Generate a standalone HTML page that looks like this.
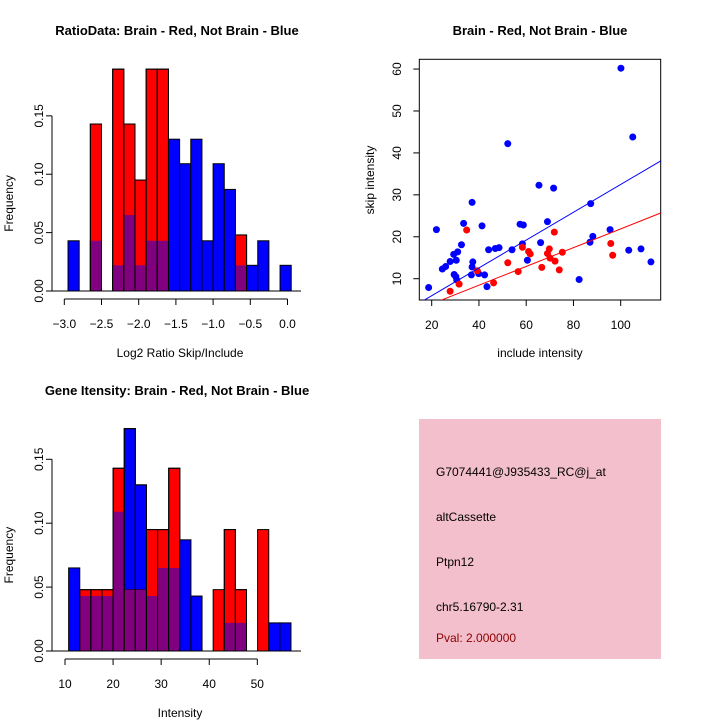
<!DOCTYPE html>
<html><head><meta charset="utf-8"><style>
body{margin:0;background:#fff}
svg{display:block;font-family:"Liberation Sans",sans-serif}
</style></head><body>
<svg id="s" width="720" height="720" viewBox="0 0 720 720">
<rect width="720" height="720" fill="#fff"/>
<g id="p1"></g>
<g id="p2"></g>
<g id="p3"></g>
<g>
<rect x="419" y="419" width="242" height="240" fill="#f3bfcc"/>
<text x="436" y="476" font-size="12">G7074441@J935433_RC@j_at</text>
<text x="436" y="521" font-size="12">altCassette</text>
<text x="436" y="566" font-size="12">Ptpn12</text>
<text x="436" y="611" font-size="12">chr5.16790-2.31</text>
<text x="436" y="642" font-size="12" fill="#8b0000">Pval: 2.000000</text>
</g>
</svg>
<script>
// Ratio histogram data
const ratioStart = -2.95, ratioWidth = 0.15;
const ratioBlue = [0.043,0,0.043,0,0.022,0.065,0.022,0.043,0.043,0.13,0.109,0.13,0.043,0.109,0.087,0.022,0.022,0.043,0,0.022];
const ratioRed  = [0,0,0.143,0,0.19,0.143,0.095,0.19,0.19,0,0,0,0,0,0,0.048,0,0,0,0];
const ratioXTicks = [-3.0,-2.5,-2.0,-1.5,-1.0,-0.5,0.0];
const ratioXLabels = ["\u22123.0","\u22122.5","\u22122.0","\u22121.5","\u22121.0","\u22120.5","0.0"];
const freqTicks = [0,0.05,0.10,0.15];
const freqLabels = ["0.00","0.05","0.10","0.15"];
// Gene intensity histogram data
const geneStart = 10.76, geneWidth = 2.312;
const geneBlue = [0.065,0.043,0.043,0.043,0.109,0.174,0.13,0.043,0.065,0.065,0.087,0.043,0,0,0.022,0.022,0,0,0.022,0.022];
const geneRed  = [0,0.048,0.048,0.048,0.143,0.048,0.048,0.095,0.095,0.143,0,0,0,0.048,0.095,0.048,0,0.095,0,0];
const geneXTicks = [10,20,30,40,50];
// Scatter data
const blueX = [18.7,22.0,24.5,25.9,27.8,29.3,29.5,30.4,31.0,30.6,30.2,32.6,33.5,37.1,37.4,37.1,36.8,39.9,41.3,42.4,43.4,44.1,46.9,48.5,52.2,54.0,57.4,58.8,58.4,60.5,65.4,66.1,69.0,71.6,82.4,87.0,87.3,88.2,95.5,100.1,103.4,105.1,108.6,112.8];
const blueY = [7.9,21.7,12.3,12.9,14.1,15.8,11.0,14.4,16.4,9.7,10.5,18.1,23.2,28.2,14.0,12.8,10.9,11.2,22.6,10.9,8.1,16.9,17.2,17.4,42.2,16.9,23.0,22.8,18.3,14.4,32.3,18.6,23.6,31.6,9.8,18.7,27.9,20.1,21.7,60.2,16.8,43.8,17.1,14.0];
const redX = [27.8,31.6,34.8,39.3,46.2,52.2,56.6,58.4,61.0,61.7,66.6,69.0,69.8,70.1,71.9,72.2,74.0,75.3,95.8,96.6];
const redY = [7.0,8.7,21.6,11.9,9.0,13.8,11.7,17.5,16.5,15.9,12.7,16.0,17.1,14.9,21.1,14.2,12.1,16.3,18.4,15.6];
const blueFit = [-0.69,0.3316];
const redFit = [-0.50,0.2238];
const scX = [20,40,60,80,100];
const scY = [10,20,30,40,50,60];

const NS="http://www.w3.org/2000/svg";
function mk(p,tag,at,txt){const e=document.createElementNS(NS,tag);for(const k in at)e.setAttribute(k,at[k]);if(txt!==undefined)e.textContent=txt;p.appendChild(e);return e;}

function hist(g,o){
  const sx=v=>o.x0+(v-o.d0)*o.kx, sy=v=>o.y0-v*o.ky;
  for(let i=0;i<o.blue.length;i++){
    const a=o.start+i*o.w, b=a+o.w, x=sx(a), wd=sx(b)-sx(a);
    const bv=o.blue[i], rv=o.red[i];
    if(bv>0){const r=mk(g,'rect',{x:x,y:sy(bv),width:wd,height:sy(0)-sy(bv),fill:'#0000ff',stroke:'#000','stroke-width':1});
      
      }
    if(rv>0){const r=mk(g,'rect',{x:x,y:sy(rv),width:wd,height:sy(0)-sy(rv),fill:'#ff0000',stroke:'#000','stroke-width':1});
      
      }
    const m=Math.min(bv,rv);
    if(m>0){const r=mk(g,'rect',{x:x+0.5,y:sy(m),width:wd-1,height:sy(0)-sy(m)-0.5,fill:'#800080'});
      
      }
    if(bv>0&&rv>0){mk(g,'rect',{x:x,y:sy(Math.max(bv,rv)),width:wd,height:sy(0)-sy(Math.max(bv,rv)),fill:'none',stroke:'#000','stroke-width':1});}
  }
  mk(g,'line',{x1:52,x2:301,y1:o.y0,y2:o.y0,stroke:'#000'});
  const ya=mk(g,'g',{});
  mk(ya,'line',{x1:52,x2:52,y1:sy(freqTicks[0]),y2:sy(freqTicks[freqTicks.length-1]),stroke:'#000'});
  freqTicks.forEach((t,i)=>{const y=sy(t);mk(ya,'line',{x1:46,x2:52,y1:y,y2:y,stroke:'#000'});
    const tx=mk(ya,'text',{x:0,y:0,'font-size':12,'text-anchor':'middle',transform:`translate(43,${y}) rotate(-90)`},freqLabels[i]);
    
    });
  const yl=mk(ya,'text',{'font-size':12,'text-anchor':'middle',transform:`translate(13,${(sy(0)+sy(0.15))/2}) rotate(-90)`},'Frequency');
  
  
  const xa=mk(g,'g',{});
  const ay=o.y0+8;
  mk(xa,'line',{x1:sx(o.ticks[0]),x2:sx(o.ticks[o.ticks.length-1]),y1:ay,y2:ay,stroke:'#000'});
  o.ticks.forEach((t,i)=>{const x=sx(t);mk(xa,'line',{x1:x,x2:x,y1:ay,y2:ay+6,stroke:'#000'});
    const tx=mk(xa,'text',{x:x,y:ay+29,'font-size':12,'text-anchor':'middle'},o.labels[i]);
    
    });
  const xl=mk(xa,'text',{x:180,y:ay+58,'font-size':12,'text-anchor':'middle'},o.xlab);
  
  
  const ti=mk(g,'text',{x:177,y:o.titleY,'font-size':13,'font-weight':'bold','text-anchor':'middle'},o.title);
  
  
}
hist(document.getElementById('p1'),{blue:ratioBlue,red:ratioRed,start:ratioStart,w:ratioWidth,x0:64.3,d0:-3,kx:74.4,y0:291,ky:1167.7,ticks:ratioXTicks,labels:ratioXLabels,xlab:'Log2 Ratio Skip/Include',title:'RatioData: Brain - Red, Not Brain - Blue',titleY:35});
hist(document.getElementById('p3'),{blue:geneBlue,red:geneRed,start:geneStart,w:geneWidth,x0:65,d0:10,kx:4.808,y0:651,ky:1278,ticks:geneXTicks,labels:geneXTicks.map(String),xlab:'Intensity',title:'Gene Itensity: Brain - Red, Not Brain - Blue',titleY:395});

(function(){
  const g=document.getElementById('p2');
  const sx=v=>431.7+(v-20)*2.3625, sy=v=>278.7-(v-10)*4.193;
  const L=419.3,R=660.7,T=59.3,B=300;
  const cp=mk(g,'clipPath',{id:'cp'});mk(cp,'rect',{x:L,y:T,width:R-L,height:B-T});
  const fr=mk(g,'rect',{x:L,y:T,width:R-L,height:B-T,fill:'none',stroke:'#000'});
  
  
  const pts=mk(g,'g',{'clip-path':'url(#cp)'});
  blueX.forEach((x,i)=>{const c=mk(pts,'circle',{cx:sx(x),cy:sy(blueY[i]),r:3.5,fill:'#0000ff'});
    
    });
  redX.forEach((x,i)=>{const c=mk(pts,'circle',{cx:sx(x),cy:sy(redY[i]),r:3.5,fill:'#ff0000'});
    
    });
  const xa0=(L-431.7)/2.3625+20, xa1=(R-431.7)/2.3625+20;
  const bl=mk(pts,'line',{x1:sx(xa0),y1:sy(blueFit[0]+blueFit[1]*xa0),x2:sx(xa1),y2:sy(blueFit[0]+blueFit[1]*xa1),stroke:'#0000ff'});
  
  
  const rl=mk(pts,'line',{x1:sx(xa0),y1:sy(redFit[0]+redFit[1]*xa0),x2:sx(xa1),y2:sy(redFit[0]+redFit[1]*xa1),stroke:'#ff0000'});
  
  
  scX.forEach(t=>{const x=sx(t);mk(g,'line',{x1:x,x2:x,y1:B,y2:B+6,stroke:'#000'});
    const tx=mk(g,'text',{x:x,y:329,'font-size':12,'text-anchor':'middle'},String(t));
    
    });
  scY.forEach(t=>{const y=sy(t);mk(g,'line',{x1:L-6,x2:L,y1:y,y2:y,stroke:'#000'});
    const tx=mk(g,'text',{'font-size':12,'text-anchor':'middle',transform:`translate(401,${y}) rotate(-90)`},String(t));
    
    });
  const xl=mk(g,'text',{x:540,y:357,'font-size':12,'text-anchor':'middle'},'include intensity');
  
  
  const yl=mk(g,'text',{'font-size':12,'text-anchor':'middle',transform:`translate(374,180) rotate(-90)`},'skip intensity');
  
  
  const ti=mk(g,'text',{x:540,y:35,'font-size':13,'font-weight':'bold','text-anchor':'middle'},'Brain - Red, Not Brain - Blue');
  
  
})();
</script>
</body></html>
